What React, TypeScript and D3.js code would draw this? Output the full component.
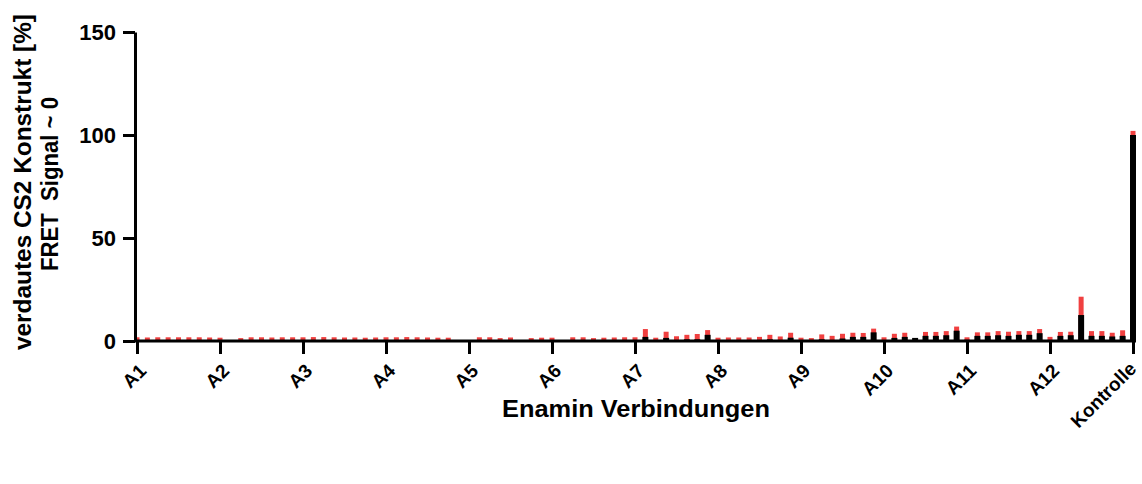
import React, { useRef, useEffect } from "react";
import * as d3 from "d3";

// 12 groups of 8 compounds (A1..A12) plus the control
const gruppen = ["A1", "A2", "A3", "A4", "A5", "A6", "A7", "A8", "A9", "A10", "A11", "A12"];
const proGruppe = 8;

// mean of the digested construct (black bars), null = not measured
const mittelwert: (number | null)[] = [
  0.2, 0.2, 0.2, 0.2, 0.2, 0.2, 0.2, 0.2,
  0.2, null, 0.1, 0.2, 0.2, 0.2, 0.2, 0.2,
  0.2, 0.2, 0.2, 0.2, 0.2, 0.2, 0.2, 0.2,
  0.2, 0.2, 0.2, 0.2, 0.2, 0.2, 0.2, null,
  null, 0.2, 0.2, 0.1, 0.2, null, 0.2, 0.1,
  0.2, null, 0.2, 0.2, 0.1, 0.2, 0.2, 0.3,
  0.3, 2.0, 0.3, 1.5, 0.4, 0.8, 0.8, 3.0,
  0.3, 0.3, 0.3, 0.3, 0.4, 0.8, 0.5, 1.6,
  0.3, 0.2, 0.8, 0.5, 1.2, 2.0, 2.0, 4.2,
  0.4, 1.5, 2.0, 1.5, 2.5, 2.5, 2.8, 5.0,
  0.6, 2.5, 2.5, 2.8, 2.5, 3.0, 3.0, 3.8,
  0.5, 2.5, 2.8, 12.6, 2.5, 2.5, 2.2, 2.5,
  100,
];

// upper replicate / error value (red)
const maximum: (number | null)[] = [
  1.8, 1.7, 1.8, 1.8, 1.8, 1.8, 1.8, 1.7,
  1.6, null, 1.4, 1.8, 1.8, 1.7, 1.8, 1.8,
  1.8, 1.9, 1.9, 1.8, 1.7, 1.7, 1.6, 1.7,
  1.8, 1.8, 1.9, 1.8, 1.7, 1.6, 1.6, null,
  null, 1.8, 1.8, 1.4, 1.7, null, 1.4, 1.6,
  1.6, null, 1.8, 1.8, 1.4, 1.6, 1.7, 1.8,
  1.8, 5.8, 1.6, 4.5, 2.3, 3.0, 3.4, 5.3,
  1.6, 1.7, 1.7, 1.7, 2.0, 3.0, 2.2, 4.0,
  1.6, 1.4, 3.2, 2.5, 3.5, 4.0, 3.9, 6.0,
  1.8, 3.5, 4.0, null, 4.4, 4.4, 4.8, 7.0,
  1.8, 4.2, 4.2, 4.8, 4.5, 4.8, 4.8, 5.8,
  2.0, 4.4, 4.5, 21.5, 4.8, 4.8, 4.0, 5.2,
  102,
];

const yTicks = [0, 50, 100, 150];

const kategorien: string[] = [
  ...gruppen.flatMap((g) => d3.range(proGruppe).map((i) => `${g}-${i + 1}`)),
  "Kontrolle",
];
const tickKategorien = [...gruppen.map((g) => `${g}-1`), "Kontrolle"];
const tickLabel = (k: string) => (k === "Kontrolle" ? k : k.split("-")[0]);

const width = 1142;
const height = 484;
const font = "'Liberation Sans', Arial, sans-serif";

const App: React.FC = () => {
  const svgRef = useRef<SVGSVGElement | null>(null);

  useEffect(() => {
    const svg = d3.select(svgRef.current);
    svg.selectAll("*").remove();

    const x = d3.scalePoint<string>().domain(kategorien).range([137, 1133]);
    const y = d3.scaleLinear().domain([0, 150]).range([341, 32]);

    const data = kategorien.map((k, i) => ({ k, mw: mittelwert[i], max: maximum[i] }));

    // red (replicates) behind black mean bars
    svg
      .append("g")
      .selectAll("rect")
      .data(data.filter((d) => d.max != null))
      .enter()
      .append("rect")
      .attr("x", (d) => x(d.k)! - 2.5)
      .attr("width", 5)
      .attr("y", (d) => y(d.max!))
      .attr("height", (d) => y(0) - y(d.max!))
      .attr("fill", "#f04040");

    svg
      .append("g")
      .selectAll("rect")
      .data(data.filter((d) => d.mw != null))
      .enter()
      .append("rect")
      .attr("x", (d) => x(d.k)! - 3)
      .attr("width", 6)
      .attr("y", (d) => y(d.mw!))
      .attr("height", (d) => y(0) - y(d.mw!))
      .attr("fill", "#000");

    // y axis
    const yAxis = svg
      .append("g")
      .attr("transform", "translate(135,0)")
      .call(d3.axisLeft(y).tickValues(yTicks).tickSize(12).tickSizeOuter(0).tickPadding(7));
    yAxis.select(".domain").attr("stroke", "#000").attr("stroke-width", 3);
    yAxis.selectAll(".tick line").attr("stroke-width", 3);
    yAxis
      .selectAll("text")
      .attr("font-family", font)
      .attr("font-weight", "bold")
      .attr("font-size", 22)
      .attr("fill", "#000");

    // x axis
    const xAxis = svg
      .append("g")
      .attr("transform", `translate(0,${y(0)})`)
      .call(
        d3
          .axisBottom(x)
          .tickValues(tickKategorien)
          .tickFormat(tickLabel)
          .tickSize(13)
          .tickSizeOuter(0)
      );
    xAxis.select(".domain").attr("d", "M135,0H1136").attr("stroke", "#000").attr("stroke-width", 3);
    xAxis.selectAll(".tick line").attr("stroke-width", 3);
    xAxis
      .selectAll<SVGTextElement, string>("text")
      .attr("font-family", font)
      .attr("font-weight", "bold")
      .attr("font-size", 19)
      .attr("fill", "#000")
      .attr("dy", null)
      .attr("y", null)
      .attr("text-anchor", "end")
      .attr("transform", (d) =>
        d === "Kontrolle" ? "translate(4,29) rotate(-45)" : "translate(10,31) rotate(-45)"
      );

    svg
      .append("text")
      .attr("x", 636)
      .attr("y", 417)
      .attr("text-anchor", "middle")
      .attr("font-family", font)
      .attr("font-weight", "bold")
      .attr("font-size", 24)
      .attr("textLength", 268)
      .attr("lengthAdjust", "spacingAndGlyphs")
      .text("Enamin Verbindungen");

    const yTitel = svg
      .append("g")
      .attr("transform", "translate(0,182) rotate(-90)")
      .attr("text-anchor", "middle")
      .attr("font-family", font)
      .attr("font-weight", "bold")
      .attr("font-size", 24);
    yTitel
      .append("text")
      .attr("x", 0)
      .attr("y", 31)
      .attr("textLength", 336)
      .attr("lengthAdjust", "spacingAndGlyphs")
      .text("verdautes CS2 Konstrukt [%]");
    yTitel
      .append("text")
      .attr("x", -2)
      .attr("y", 58)
      .attr("textLength", 174)
      .attr("lengthAdjust", "spacingAndGlyphs")
      .attr("xml:space", "preserve")
      .text("FRET  Signal ~ 0");
  }, []);

  return (
    <>
      <style>{"body{margin:0}"}</style>
      <svg ref={svgRef} width={width} height={height} style={{ display: "block" }} />
    </>
  );
};

export default App;
